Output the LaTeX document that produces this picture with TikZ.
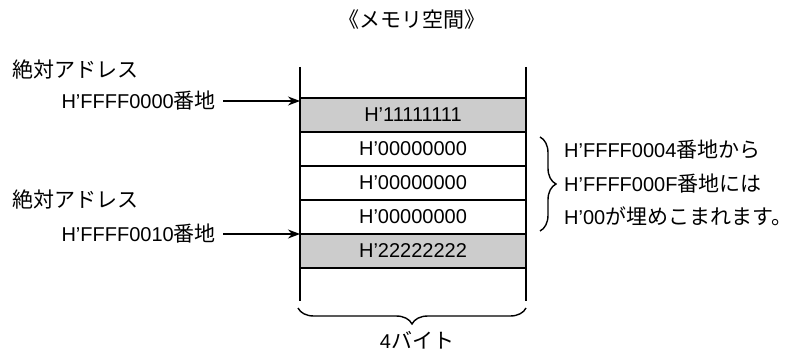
\documentclass[tikz,border=0pt]{standalone}
\usepackage{fontspec}
\setmainfont{Liberation Sans}
\newfontfamily\jpfont[Scale=1.05]{Noto Sans CJK JP}
\usetikzlibrary{positioning,arrows.meta,decorations.pathreplacing}
\definecolor{cellgray}{RGB}{204,204,204}
\tikzset{
  cell/.style={draw,line width=1.8pt,minimum width=226pt,minimum height=34pt,inner sep=0pt,outer sep=0pt},
  ptr/.style={-{Stealth[length=12pt,width=9pt]},line width=1.3pt},
  brc/.style={decorate,decoration={brace,amplitude=16pt},line width=1.4pt},
}
\begin{document}
\begin{tikzpicture}[x=1pt,y=-1pt,every node/.style={font=\fontsize{20}{24}\selectfont,inner sep=3pt}]
  \useasboundingbox (0,0) rectangle (795,353);
  \node (title) at (412,20) {\jpfont 《メモリ空間》};
  % memory cells
  \node[cell,fill=cellgray] (r1) at (413,115) {H’11111111};
  \node[cell,below=0pt of r1] (r2) {H’00000000};
  \node[cell,below=0pt of r2] (r3) {H’00000000};
  \node[cell,below=0pt of r3] (r4) {H’00000000};
  \node[cell,fill=cellgray,below=0pt of r4] (r5) {H’22222222};
  \coordinate (lt) at (300,67);
  \coordinate (lb) at (300,301);
  \coordinate (rt) at (526,67);
  \coordinate (rb) at (526,301);
  \draw[line width=1.8pt] (lt) -- (lb);
  \draw[line width=1.8pt] (rt) -- (rb);
  % absolute addresses
  \node[anchor=west] (abs1) at (9,70) {\jpfont 絶対アドレス};
  \node[anchor=east] (a1) at (219,101) {H’FFFF0000{\jpfont 番地}};
  \node[anchor=west] (abs2) at (9,200) {\jpfont 絶対アドレス};
  \node[anchor=east] (a2) at (219,234) {H’FFFF0010{\jpfont 番地}};
  \draw[ptr] ([xshift=4pt]a1.east) -- (a1 -| r1.west);
  \draw[ptr] ([xshift=4pt]a2.east) -- (a2 -| r5.west);
  % padding note
  \coordinate (zs) at (540,137);
  \coordinate (ze) at (540,231);
  \draw[brc] (zs) -- (ze);
  \node[anchor=west,align=left,font=\fontsize{20}{33.5}\selectfont] (note) at (561,183)
    {H’FFFF0004{\jpfont 番地から}\\H’FFFF000F{\jpfont 番地には}\\H’00{\jpfont が埋めこまれます。}};
  % width
  \coordinate (ws) at (526,308);
  \coordinate (we) at (298,308);
  \draw[brc] (ws) -- (we);
  \node (width) at (417,340) {4{\jpfont バイト}};
\end{tikzpicture}
\end{document}
